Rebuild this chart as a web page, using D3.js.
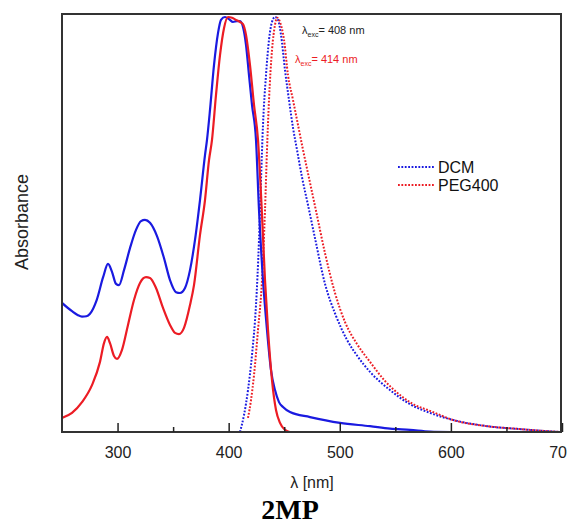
<!DOCTYPE html>
<html><head><meta charset="utf-8">
<script src="https://cdn.jsdelivr.net/npm/d3@7"></script>
<style>body{margin:0;background:#fff}svg{display:block}</style>
</head><body>
<script>
// ---- data (wavelength nm, normalized intensity) ----
const dcmAbsWl = [250,259,264,268,272,275.2,281.2,287,291.4,295,298.6,301.3,305.8,311.2,316.6,321.1,324.7,329.2,335.5,341.8,347.2,352.6,356.2,360.7,365.2,369.7,374.2,378.7,380.5,383.2,386.8,390.4,393.1,396.7,400.3,403.9,407.5,410.2,412.9,415.6,418.3,421,424.6,427.3,430.9,434.5,438.1,441.7,445.3,448.9,455.2,473.2,500.2,527.2,545.2,563.2,581.2,600];
const dcmAbsVal = [0.311,0.291,0.282,0.278,0.279,0.285,0.318,0.373,0.405,0.386,0.357,0.354,0.390,0.443,0.487,0.508,0.511,0.504,0.472,0.419,0.366,0.337,0.335,0.347,0.390,0.463,0.559,0.667,0.704,0.776,0.884,0.961,0.993,1.0,0.995,0.988,0.990,0.990,0.976,0.933,0.860,0.788,0.704,0.535,0.366,0.246,0.149,0.101,0.072,0.060,0.048,0.036,0.022,0.014,0.008,0.005,0.001,0];
const pegAbsWl = [250,259,268,277,284.2,287.8,290.5,293.2,296.8,299.5,304,309.4,314.8,320.2,325.6,329.2,334.6,340.9,347.2,351.7,355.3,359.8,365.2,368.8,374.2,378.7,382.3,385,388.6,392.2,395.8,399.4,403,406.6,410.2,412.9,415.6,419.2,422.8,426.4,430,432.7,435.4,439,442.6,446.2,450.7,455.2,500.2];
const pegAbsVal = [0.034,0.046,0.072,0.113,0.169,0.214,0.229,0.214,0.183,0.176,0.198,0.258,0.318,0.359,0.373,0.371,0.347,0.299,0.258,0.239,0.236,0.251,0.306,0.354,0.475,0.559,0.655,0.704,0.812,0.908,0.973,1.0,0.998,0.993,0.988,0.983,0.957,0.884,0.788,0.704,0.523,0.366,0.246,0.125,0.053,0.022,0.005,0,0];
const dcmEmWl = [410.2,413.8,417.4,421,424.6,427.3,429.1,430.9,433.6,436.3,439,441.7,444.4,447.1,450.7,454.3,457.9,461.5,466,471.4,477.7,486.7,496.6,506.5,516.4,527.2,545.2,563.2,581.2,601.9,632.5,662.2,698.2];
const dcmEmVal = [0,0.041,0.101,0.186,0.306,0.463,0.607,0.740,0.860,0.945,0.988,1.0,0.993,0.957,0.872,0.800,0.733,0.680,0.614,0.547,0.467,0.357,0.280,0.222,0.181,0.145,0.101,0.067,0.046,0.029,0.014,0.007,0];
const pegEmWl = [417.4,420.1,422.8,426.4,430,432.7,434.5,436.3,439,441.7,443.5,446.2,449.8,453.4,457.9,462.4,466.9,472.3,478.6,486.7,495.7,504.7,515.5,527.2,540.7,554.2,567.7,581.2,601.9,632.5,662.2,698.2];
const pegEmVal = [0.034,0.077,0.137,0.246,0.366,0.535,0.680,0.800,0.920,0.981,0.998,0.988,0.945,0.860,0.800,0.740,0.680,0.612,0.533,0.431,0.335,0.265,0.212,0.169,0.123,0.089,0.065,0.051,0.029,0.014,0.007,0];
const xTicks = [300,400,500,600,700];
const xMinorTicks = [350,450,550,650];
const legendLabels = ["DCM","PEG400"];
const colors = ["#1a1ae0","#ec1c24"];

const W=567,H=526;
const L=62,R=562,T=14,B=432;
const svg=d3.select("body").append("svg").attr("width",W).attr("height",H);
const x=d3.scaleLinear().domain([250,700]).range([L,R]);
const y=d3.scaleLinear().domain([0,1]).range([B,17]);
const font="'Liberation Sans', Arial, sans-serif";

svg.append("defs").append("clipPath").attr("id","clip").append("rect")
  .attr("x",L).attr("y",T).attr("width",R-L).attr("height",B-T);

const line=d3.line().x(d=>x(d[0])).y(d=>y(d[1])).curve(d3.curveMonotoneX);
const zip=(a,b)=>a.map((v,i)=>[v,b[i]]);
const g=svg.append("g").attr("clip-path","url(#clip)");
g.append("path").datum(zip(dcmEmWl,dcmEmVal)).attr("d",line).attr("fill","none")
 .attr("stroke",colors[0]).attr("stroke-width",2).attr("stroke-dasharray","1.8,1.6");
g.append("path").datum(zip(pegEmWl,pegEmVal)).attr("d",line).attr("fill","none")
 .attr("stroke",colors[1]).attr("stroke-width",2).attr("stroke-dasharray","1.8,1.6");
g.append("path").datum(zip(dcmAbsWl,dcmAbsVal)).attr("d",line).attr("fill","none")
 .attr("stroke",colors[0]).attr("stroke-width",2.2);
g.append("path").datum(zip(pegAbsWl,pegAbsVal)).attr("d",line).attr("fill","none")
 .attr("stroke",colors[1]).attr("stroke-width",2.2);

// frame
svg.append("rect").attr("x",L).attr("y",T).attr("width",R-L-1).attr("height",B-T)
  .attr("fill","none").attr("stroke","#333").attr("stroke-width",2);

// x axis
const ax=svg.append("g").attr("transform",`translate(0,${B})`)
  .call(d3.axisBottom(x).tickValues(xTicks).tickSizeInner(-9).tickSizeOuter(0).tickPadding(15));
ax.select(".domain").remove();
ax.selectAll(".tick line").attr("stroke","#222").attr("stroke-width",1.5);
ax.selectAll("text").attr("font-family",font).attr("font-size",16).attr("fill","#222");
const axm=svg.append("g").attr("transform",`translate(0,${B})`)
  .call(d3.axisBottom(x).tickValues(xMinorTicks).tickSizeInner(-5).tickSizeOuter(0).tickFormat(""));
axm.select(".domain").remove();
axm.selectAll(".tick line").attr("stroke","#222").attr("stroke-width",1.5);

svg.append("text").attr("x",(L+R)/2).attr("y",488).attr("text-anchor","middle")
  .attr("font-family",font).attr("font-size",16).attr("fill","#222").text("λ [nm]");
svg.append("text").attr("transform","translate(28,222) rotate(-90)").attr("text-anchor","middle")
  .attr("font-family",font).attr("font-size",18).attr("fill","#222").text("Absorbance");
svg.append("text").attr("x",290).attr("y",519).attr("text-anchor","middle")
  .attr("font-family","'Liberation Serif','Times New Roman',serif").attr("font-weight","bold")
  .attr("font-size",28).attr("fill","#000").text("2MP");

// annotations
function lam(xp,yp,txt,col){
  const t=svg.append("text").attr("x",xp).attr("y",yp).attr("font-family",font).attr("font-size",11).attr("fill",col);
  t.append("tspan").text("λ");
  t.append("tspan").attr("font-size",7).attr("dy",3).text("exc");
  t.append("tspan").attr("dy",-3).text(txt);
}
lam(302,34,"= 408 nm","#222");
lam(295,63,"= 414 nm",colors[1]);

// legend
legendLabels.forEach((lab,i)=>{
  const yy=167+i*18;
  svg.append("line").attr("x1",398).attr("x2",435).attr("y1",yy).attr("y2",yy)
    .attr("stroke",colors[i]).attr("stroke-width",2).attr("stroke-dasharray","1.8,1.6");
  svg.append("text").attr("x",438).attr("y",yy+5.5).attr("font-family",font).attr("font-size",16)
    .attr("fill","#111").text(lab);
});
</script>
</body></html>
